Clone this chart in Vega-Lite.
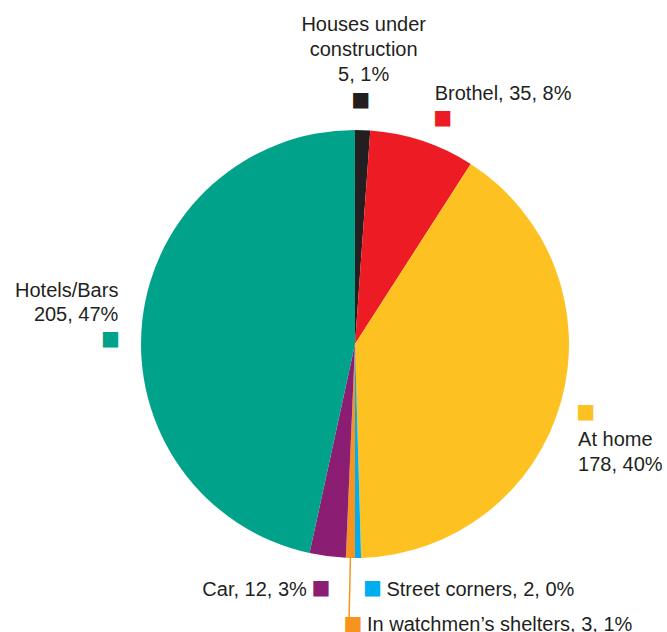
{
  "$schema": "https://vega.github.io/schema/vega-lite/v6.json",
  "autosize": {"type": "none"},
  "width": 624,
  "height": 576,
  "padding": {"left": 43, "top": 56, "right": 0, "bottom": 0},
  "background": "white",
  "config": {"view": {"stroke": null}},
  "data": {
    "values": [
      {"rank": 1, "category": "Houses under construction", "value": 5, "label": "Houses under\nconstruction\n5, 1%"},
      {"rank": 2, "category": "Brothel", "value": 35, "label": "Brothel, 35, 8%"},
      {"rank": 3, "category": "At home", "value": 178, "label": "At home\n178, 40%"},
      {"rank": 4, "category": "Street corners", "value": 2, "label": "Street corners, 2, 0%"},
      {"rank": 5, "category": "In watchmen’s shelters", "value": 3, "label": "In watchmen’s shelters, 3, 1%"},
      {"rank": 6, "category": "Car", "value": 12, "label": "Car, 12, 3%"},
      {"rank": 7, "category": "Hotels/Bars", "value": 205, "label": "Hotels/Bars\n205, 47%"}
    ]
  },
  "transform": [
    {"joinaggregate": [{"op": "sum", "field": "value", "as": "total"}]},
    {"window": [{"op": "sum", "field": "value", "as": "cum"}], "sort": [{"field": "rank"}], "frame": [null, 0]},
    {"calculate": "2 * PI * (datum.cum - datum.value) / datum.total", "as": "a0"},
    {"calculate": "2 * PI * datum.cum / datum.total", "as": "a1"},
    {"calculate": "(datum.a0 + datum.a1) / 2", "as": "am"}
  ],
  "encoding": {
    "color": {
      "field": "category", "type": "nominal", "legend": null,
      "scale": {
        "domain": ["Houses under construction", "Brothel", "At home", "Street corners", "In watchmen’s shelters", "Car", "Hotels/Bars"],
        "range": ["#231f20", "#ed1c24", "#fdc221", "#00aeef", "#f7941d", "#8b1e73", "#00a38a"]
      }
    }
  },
  "layer": [
    {
      "mark": {"type": "arc", "outerRadius": 214},
      "encoding": {
        "theta": {"field": "a0", "type": "quantitative", "scale": null},
        "theta2": {"field": "a1"}
      }
    },
    {
      "transform": [{"filter": "datum.rank == 5"}],
      "mark": {"type": "arc", "innerRadius": 214, "outerRadius": 274, "fill": null, "stroke": "#f7941d", "strokeWidth": 1.5},
      "encoding": {
        "theta": {"field": "am", "type": "quantitative", "scale": null},
        "theta2": {"field": "am"},
        "color": {"value": null}
      }
    },
    {"transform": [{"filter": "datum.rank == 1"}], "mark": {"type": "text", "text": "■", "font": "DejaVu Sans", "fontSize": 20, "radius": 243, "align": "center", "baseline": "middle", "dx": -3, "dy": -1}, "encoding": {"theta": {"field": "am", "type": "quantitative", "scale": null}}},
    {"transform": [{"filter": "datum.rank == 2"}], "mark": {"type": "text", "text": "■", "font": "DejaVu Sans", "fontSize": 20, "radius": 243, "align": "center", "baseline": "middle", "dx": 11, "dy": 5}, "encoding": {"theta": {"field": "am", "type": "quantitative", "scale": null}}},
    {"transform": [{"filter": "datum.rank == 3"}], "mark": {"type": "text", "text": "■", "font": "DejaVu Sans", "fontSize": 20, "radius": 243, "align": "center", "baseline": "middle", "dx": -3.5, "dy": 3}, "encoding": {"theta": {"field": "am", "type": "quantitative", "scale": null}}},
    {"transform": [{"filter": "datum.rank == 4"}], "mark": {"type": "text", "text": "■", "font": "DejaVu Sans", "fontSize": 20, "radius": 243, "align": "center", "baseline": "middle", "dx": 14, "dy": 1}, "encoding": {"theta": {"field": "am", "type": "quantitative", "scale": null}}},
    {"transform": [{"filter": "datum.rank == 5"}], "mark": {"type": "text", "text": "■", "font": "DejaVu Sans", "fontSize": 20, "radius": 280, "align": "center", "baseline": "middle", "dx": 4, "dy": 0}, "encoding": {"theta": {"field": "am", "type": "quantitative", "scale": null}}},
    {"transform": [{"filter": "datum.rank == 6"}], "mark": {"type": "text", "text": "■", "font": "DejaVu Sans", "fontSize": 20, "radius": 243, "align": "center", "baseline": "middle", "dx": -3, "dy": 3}, "encoding": {"theta": {"field": "am", "type": "quantitative", "scale": null}}},
    {"transform": [{"filter": "datum.rank == 7"}], "mark": {"type": "text", "text": "■", "font": "DejaVu Sans", "fontSize": 20, "radius": 243, "align": "center", "baseline": "middle", "dx": -3, "dy": 21}, "encoding": {"theta": {"field": "am", "type": "quantitative", "scale": null}}},
    {"transform": [{"filter": "datum.rank == 1"}], "mark": {"type": "text", "font": "Liberation Sans", "fontSize": 20, "lineHeight": 25, "lineBreak": "\n", "radius": 243, "align": "center", "baseline": "alphabetic", "dx": 0, "dy": -70}, "encoding": {"theta": {"field": "am", "type": "quantitative", "scale": null}, "text": {"field": "label"}, "color": {"value": "#231f20"}}},
    {"transform": [{"filter": "datum.rank == 2"}], "mark": {"type": "text", "font": "Liberation Sans", "fontSize": 20, "lineHeight": 25, "lineBreak": "\n", "radius": 243, "align": "left", "baseline": "alphabetic", "dx": 3, "dy": -13}, "encoding": {"theta": {"field": "am", "type": "quantitative", "scale": null}, "text": {"field": "label"}, "color": {"value": "#231f20"}}},
    {"transform": [{"filter": "datum.rank == 3"}], "mark": {"type": "text", "font": "Liberation Sans", "fontSize": 20, "lineHeight": 25, "lineBreak": "\n", "radius": 243, "align": "left", "baseline": "alphabetic", "dx": -11, "dy": 37}, "encoding": {"theta": {"field": "am", "type": "quantitative", "scale": null}, "text": {"field": "label"}, "color": {"value": "#231f20"}}},
    {"transform": [{"filter": "datum.rank == 4"}], "mark": {"type": "text", "font": "Liberation Sans", "fontSize": 20, "lineHeight": 25, "lineBreak": "\n", "radius": 243, "align": "left", "baseline": "alphabetic", "dx": 28, "dy": 9}, "encoding": {"theta": {"field": "am", "type": "quantitative", "scale": null}, "text": {"field": "label"}, "color": {"value": "#231f20"}}},
    {"transform": [{"filter": "datum.rank == 5"}], "mark": {"type": "text", "font": "Liberation Sans", "fontSize": 20, "lineHeight": 25, "lineBreak": "\n", "radius": 280, "align": "left", "baseline": "alphabetic", "dx": 18, "dy": 7}, "encoding": {"theta": {"field": "am", "type": "quantitative", "scale": null}, "text": {"field": "label"}, "color": {"value": "#231f20"}}},
    {"transform": [{"filter": "datum.rank == 6"}], "mark": {"type": "text", "font": "Liberation Sans", "fontSize": 20, "lineHeight": 25, "lineBreak": "\n", "radius": 243, "align": "right", "baseline": "alphabetic", "dx": -17, "dy": 11}, "encoding": {"theta": {"field": "am", "type": "quantitative", "scale": null}, "text": {"field": "label"}, "color": {"value": "#231f20"}}},
    {"transform": [{"filter": "datum.rank == 7"}], "mark": {"type": "text", "font": "Liberation Sans", "fontSize": 20, "lineHeight": 23.5, "lineBreak": "\n", "radius": 243, "align": "right", "baseline": "alphabetic", "dx": 5, "dy": -21}, "encoding": {"theta": {"field": "am", "type": "quantitative", "scale": null}, "text": {"field": "label"}, "color": {"value": "#231f20"}}}
  ]
}
